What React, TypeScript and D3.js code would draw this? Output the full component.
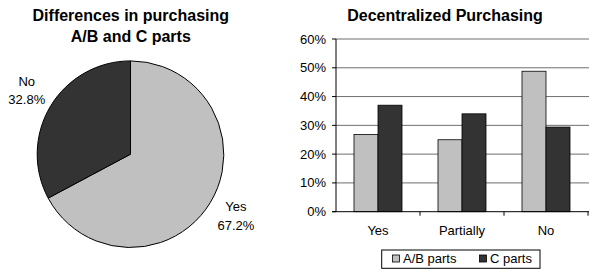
import React from "react";
import * as d3 from "d3";

const pieLabels = ["Yes", "No"];
const pieValues = [67.2, 32.8];
const pieColors = ["#c0c0c0", "#333333"];

const categories = ["Yes", "Partially", "No"];
const seriesNames = ["A/B parts", "C parts"];
const abValues = [0.268, 0.25, 0.488];
const cValues = [0.37, 0.34, 0.294];
const seriesColors = ["#c0c0c0", "#333333"];
const yTicks = [0, 0.1, 0.2, 0.3, 0.4, 0.5, 0.6];

const FONT = "'Liberation Sans', Arial, sans-serif";

export default function App() {
  // Pie
  const cx = 130.5, cy = 154.2, r = 93.3;
  const pie = d3.pie<number>().sort(null).value((d) => d)(pieValues);
  const arc = d3.arc<d3.PieArcDatum<number>>().innerRadius(0).outerRadius(r);
  const labelR = [123, 121];

  // Bars
  const x = d3.scaleBand<string>().domain(categories).range([336, 588]).padding(0);
  const bw = x.bandwidth();
  const xs = d3.scaleBand<string>().domain(seriesNames).range([bw * 0.2143, bw * 0.7857]).padding(0);
  const y = d3.scaleLinear().domain([0, 0.6]).range([211.7, 39]);
  const series = [abValues, cValues];

  return (
    <svg width={589} height={271} style={{ position: "absolute", left: 0, top: 0, background: "#fff" }} fontFamily={FONT}>
      {/* Pie chart */}
      <text x={130.8} y={20.7} textAnchor="middle" fontSize={16} fontWeight="bold">Differences in purchasing</text>
      <text x={130.8} y={41.7} textAnchor="middle" fontSize={16} fontWeight="bold">A/B and C parts</text>
      <g transform={`translate(${cx},${cy})`}>
        {pie.map((p, i) => (
          <path key={i} d={arc(p) || ""} fill={pieColors[i]} stroke="#000" strokeWidth={1} />
        ))}
        {pie.map((p, i) => {
          const a = (p.startAngle + p.endAngle) / 2;
          const lx = Math.sin(a) * labelR[i];
          const ly = -Math.cos(a) * labelR[i];
          return (
            <text key={i} textAnchor="middle" fontSize={13}>
              <tspan x={lx} y={ly - 6}>{pieLabels[i]}</tspan>
              <tspan x={lx} y={ly + 12.5}>{pieValues[i].toFixed(1)}%</tspan>
            </text>
          );
        })}
      </g>

      {/* Bar chart */}
      <text x={445} y={20.7} textAnchor="middle" fontSize={16} fontWeight="bold">Decentralized Purchasing</text>
      {yTicks.filter((t) => t > 0).map((t) => (
        <line key={t} x1={336} x2={589} y1={y(t)} y2={y(t)} stroke="#6e6e6e" strokeWidth={1} />
      ))}
      {categories.map((c, ci) =>
        series.map((vals, si) => (
          <rect
            key={`${c}-${si}`}
            x={(x(c) as number) + (xs(seriesNames[si]) as number)}
            y={y(vals[ci])}
            width={xs.bandwidth()}
            height={y(0) - y(vals[ci])}
            fill={seriesColors[si]}
            stroke="#000"
            strokeWidth={0.8}
          />
        ))
      )}
      <line x1={336} x2={336} y1={y(0.6)} y2={y(0)} stroke="#000" strokeWidth={1} />
      <line x1={332} x2={589} y1={y(0)} y2={y(0)} stroke="#000" strokeWidth={1} />
      {yTicks.map((t) => (
        <g key={t}>
          <line x1={332} x2={336} y1={y(t)} y2={y(t)} stroke="#000" strokeWidth={1} />
          <text x={326} y={y(t) + 4.5} textAnchor="end" fontSize={13}>{`${Math.round(t * 100)}%`}</text>
        </g>
      ))}
      {categories.map((c) => (
        <line key={c} x1={(x(c) as number) + bw} x2={(x(c) as number) + bw} y1={y(0)} y2={y(0) + 4} stroke="#000" strokeWidth={1} />
      ))}
      {categories.map((c) => (
        <text key={c} x={(x(c) as number) + bw / 2} y={235} textAnchor="middle" fontSize={13}>{c}</text>
      ))}

      {/* Legend */}
      <rect x={381.7} y={250} width={158.3} height={18.3} fill="#fff" stroke="#000" strokeWidth={1} />
      {seriesNames.map((s, i) => {
        const lx = [392.5, 479.5][i];
        return (
          <g key={s}>
            <rect x={lx} y={255} width={7} height={7} fill={seriesColors[i]} stroke="#000" strokeWidth={0.8} />
            <text x={lx + 10.5} y={263} fontSize={13}>{s}</text>
          </g>
        );
      })}
    </svg>
  );
}
